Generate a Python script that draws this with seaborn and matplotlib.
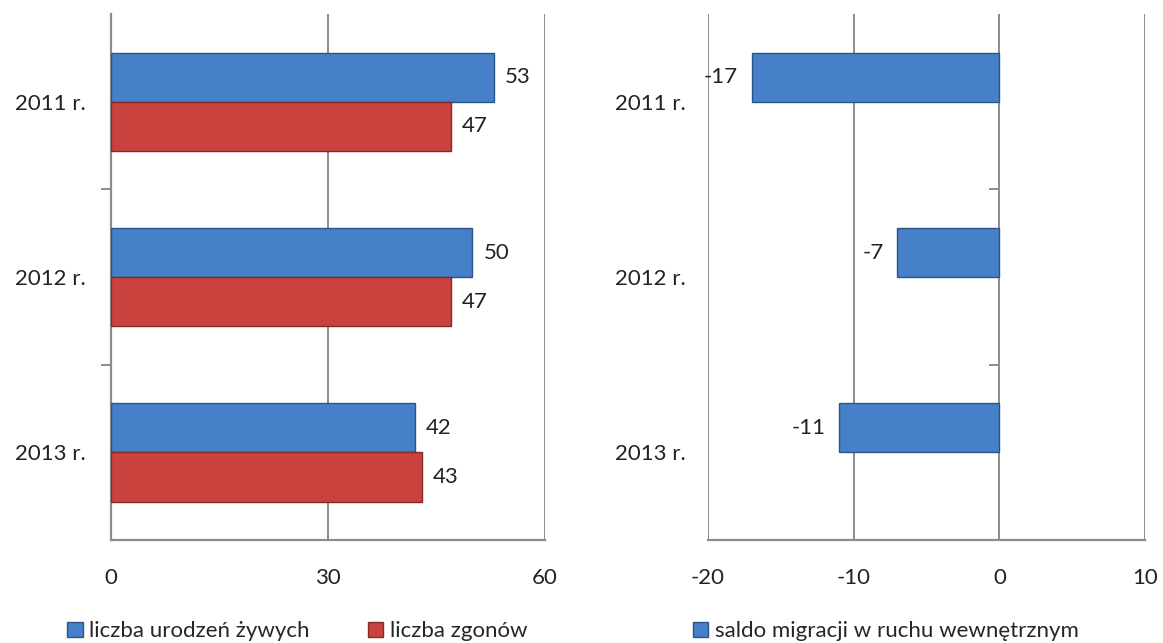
import pandas as pd
import matplotlib.pyplot as plt
import matplotlib.patches as mpatches
import seaborn as sns

sns.set_style('white')
plt.rcParams['font.family'] = ['Lato', 'DejaVu Sans']
plt.rcParams['axes.unicode_minus'] = False

# data
years = ['2011 r.', '2012 r.', '2013 r.']
births = [53, 50, 42]
deaths = [47, 47, 43]
migration = [-17, -7, -11]

s_births = 'liczba urodzeń żywych'
s_deaths = 'liczba zgonów'
s_migr = 'saldo migracji w ruchu wewnętrznym'

blue = '#4580c8'
red = '#c9423e'
blue_edge = '#2b5587'
red_edge = '#872a27'
grid_col = '#8c8c8c'

left_df = pd.DataFrame({
    'rok': years * 2,
    'wartosc': births + deaths,
    'seria': [s_births] * 3 + [s_deaths] * 3,
})
# the right chart keeps an empty second slot, so its bar sits in the upper half
right_df = pd.DataFrame({
    'rok': years * 2,
    'wartosc': migration + [0] * 3,
    'seria': [s_migr] * 3 + ['pusty'] * 3,
})

fig = plt.figure(figsize=(11.63, 6.43), dpi=100)
ax1 = fig.add_axes([0.0954, 0.160, 0.373, 0.818])
ax2 = fig.add_axes([0.6088, 0.160, 0.3757, 0.818])

sns.barplot(data=left_df, y='rok', x='wartosc', hue='seria', order=years,
            hue_order=[s_births, s_deaths], palette=[blue, red], width=0.56,
            saturation=1, orient='h', ax=ax1, legend=False)
sns.barplot(data=right_df, y='rok', x='wartosc', hue='seria', order=years,
            hue_order=[s_migr, 'pusty'], palette=[blue, 'white'], width=0.56,
            saturation=1, orient='h', ax=ax2, legend=False)

for c, edge in zip(ax1.containers, [blue_edge, red_edge]):
    for p in c:
        p.set_edgecolor(edge)
        p.set_linewidth(1.0)
        p.set_zorder(3)
    ax1.bar_label(c, padding=8, fontsize=16, color='#222222')

for p in ax2.containers[0]:
    p.set_edgecolor(blue_edge)
    p.set_linewidth(1.0)
    p.set_zorder(3)
for p in ax2.containers[1]:
    p.set_visible(False)
ax2.bar_label(ax2.containers[0], padding=10, fontsize=16, color='#222222')

ax1.set_xlim(0, 60)
ax1.set_xticks([0, 30, 60])
ax2.set_xlim(-20, 10)
ax2.set_xticks([-20, -10, 0, 10])

for ax in (ax1, ax2):
    ax.set_ylim(2.5, -0.5)
    ax.set_xlabel('')
    ax.set_ylabel('')
    ax.xaxis.grid(True, color=grid_col, linewidth=1.4)
    ax.set_axisbelow(True)
    for side in ('top', 'right', 'left'):
        ax.spines[side].set_visible(False)
    ax.spines['bottom'].set_color(grid_col)
    ax.spines['bottom'].set_linewidth(1.6)
    ax.tick_params(axis='x', direction='out', length=10, width=1.4, color=grid_col,
                   labelsize=16, pad=10, labelcolor='#222222')
    ax.tick_params(axis='y', length=0, labelsize=16, labelcolor='#222222')
    # small tick marks on the category boundaries at x = 0
    ax.plot([0, 0], [0.5, 1.5], ls='none', marker=0, ms=7, mew=1.4,
            color=grid_col, zorder=4, clip_on=False)

ax1.tick_params(axis='y', pad=18)
ax2.tick_params(axis='y', pad=16)
ax1.spines['left'].set_visible(True)
ax1.spines['left'].set_color(grid_col)
ax1.spines['left'].set_linewidth(1.6)

h1 = [mpatches.Patch(facecolor=blue, edgecolor=blue_edge, label=s_births),
      mpatches.Patch(facecolor=red, edgecolor=red_edge, label=s_deaths)]
h2 = [mpatches.Patch(facecolor=blue, edgecolor=blue_edge, label=s_migr)]
leg_kw = dict(frameon=False, fontsize=16, handlelength=0.7, handleheight=0.7,
              handletextpad=0.3, borderaxespad=0)
fig.legend(handles=h1, loc='center left', bbox_to_anchor=(0.05, 0.018),
           ncol=2, columnspacing=2.6, **leg_kw)
fig.legend(handles=h2, loc='center left', bbox_to_anchor=(0.588, 0.018), **leg_kw)

fig.savefig('out.png', dpi=100)
